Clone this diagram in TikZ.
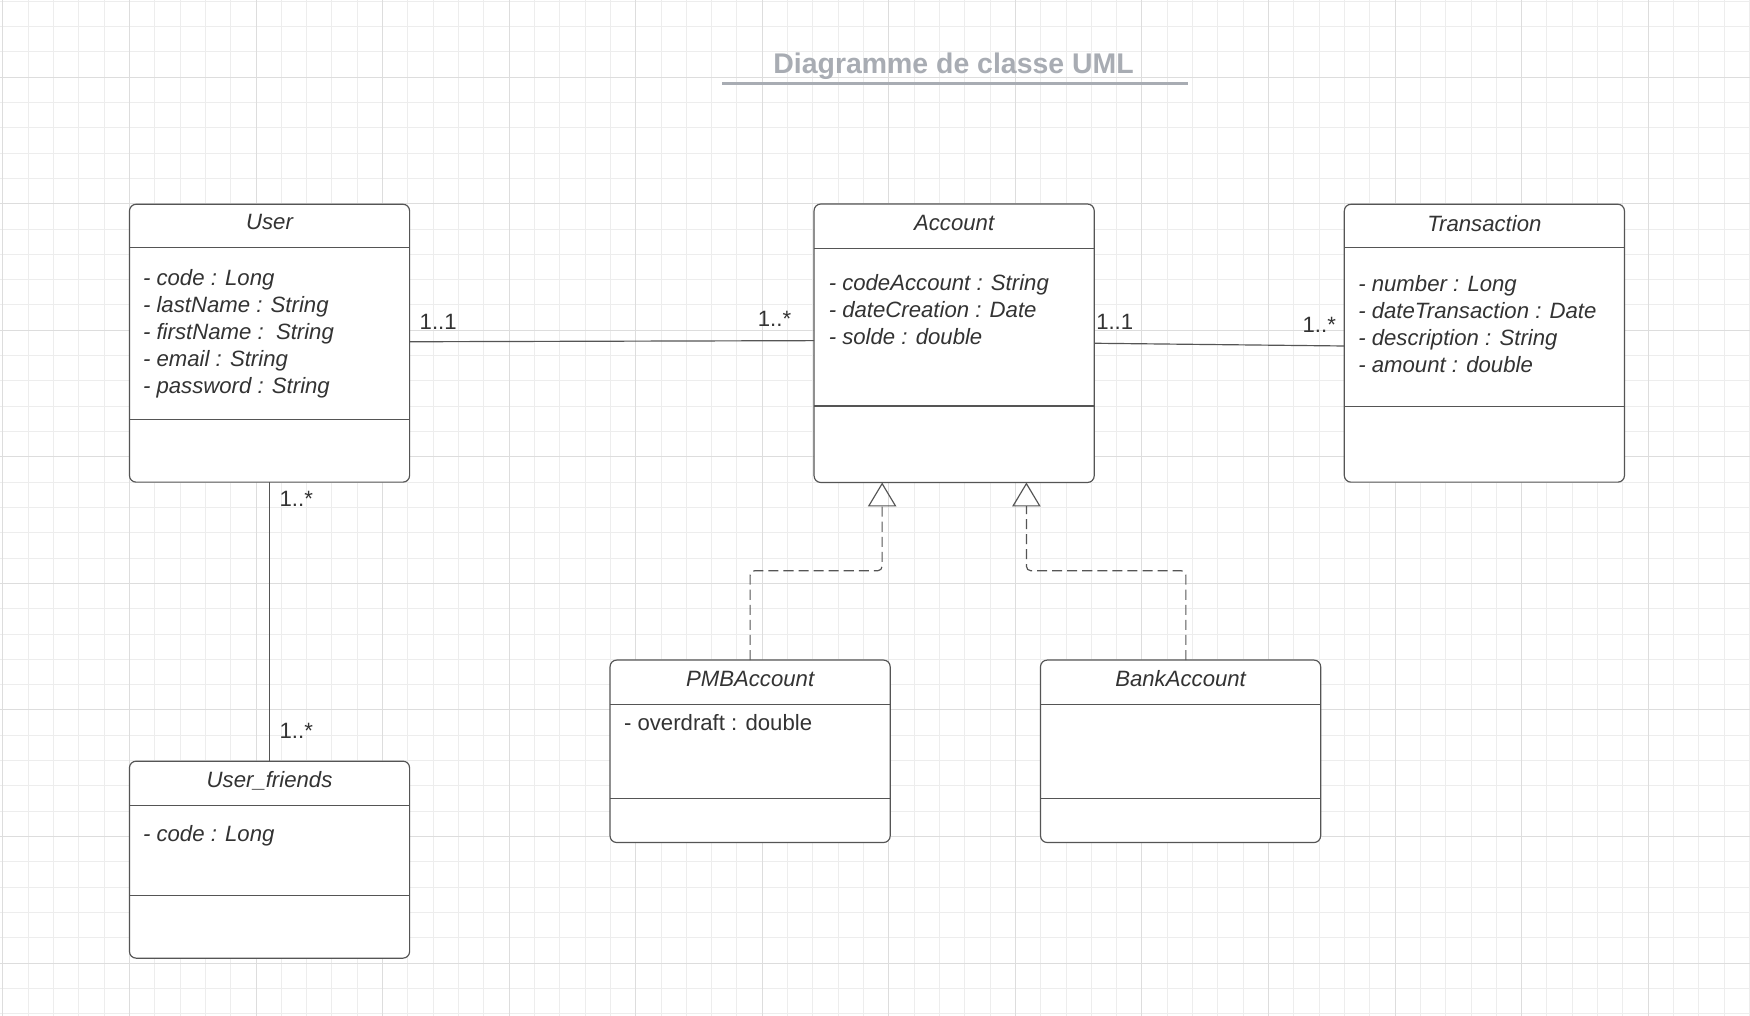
\documentclass[tikz,border=0pt]{standalone}
\usepackage{fontspec}
\setmainfont{Liberation Sans}
\usetikzlibrary{arrows.meta}

\definecolor{textgray}{HTML}{333333}
\definecolor{boxgray}{HTML}{555555}
\definecolor{titlegray}{HTML}{A8ACB3}
\definecolor{minorgray}{HTML}{EDEDED}
\definecolor{majorgray}{HTML}{DDDDDD}
\newcommand{\classfont}{\fontsize{11.3}{13.8}\selectfont}

\begin{document}
\begin{tikzpicture}[x=0.2mm, y=-0.2mm,
    classbox/.style={draw=boxgray, line width=0.6pt, fill=white, rounded corners=1.2mm,
      minimum width=50.2mm, anchor=north west, inner sep=0pt, outer sep=0pt},
    classname/.style={text=textgray, font=\classfont\itshape, inner sep=0pt, anchor=base},
    attrs/.style={text=textgray, font=\classfont\itshape, align=left, inner sep=0pt, anchor=base west},
    divider/.style={draw=boxgray, line width=0.6pt},
    mult/.style={text=textgray, font=\classfont, inner sep=0pt},
    assoc/.style={draw=boxgray, line width=0.6pt},
    realize/.style={draw=boxgray, line width=0.6pt, dash pattern=on 1.8mm off 0.9mm,
      rounded corners=0.8mm, -{Triangle[open, length=4.3mm, width=5.1mm]}},
    minorgrid/.style={draw=minorgray, line width=0.5pt},
    majorgrid/.style={draw=majorgray, line width=0.5pt}]
    \useasboundingbox[fill=white] (0,0) rectangle (1568,910);

    % Grid
    \foreach \k in {0,...,69} \draw[minorgrid] ({2.6+22.68*\k},0) -- ({2.6+22.68*\k},910);
    \foreach \k in {0,...,40} \draw[minorgrid] (0,{1.06+22.68*\k}) -- (1568,{1.06+22.68*\k});
    \foreach \k in {0,...,13} \draw[majorgrid] ({2.6+113.4*\k},0) -- ({2.6+113.4*\k},910);
    \foreach \k in {0,...,7} \draw[majorgrid] (0,{69.1+113.4*\k}) -- (1568,{69.1+113.4*\k});

    % Title
    \node[text=titlegray, font=\fontsize{14.5}{17}\selectfont\bfseries, inner sep=0pt, anchor=base]
        (title) at (854.4,65.7) {Diagramme de classe UML};
    \draw[titlegray, line width=0.45mm] (647,74.7) -- (1064.5,74.7);

    % Nodes
    \node[classbox, minimum height=49.8mm] (user) at (116,183) {};
    \node[classbox, minimum height=49.9mm] (account) at (729.4,182.8) {};
    \node[classbox, minimum height=49.8mm] (transaction) at (1204.5,183) {};
    \node[classbox, minimum height=35.3mm] (friends) at (116,682) {};
    \node[classbox, minimum height=32.7mm] (pmb) at (546.6,591.4) {};
    \node[classbox, minimum height=32.7mm] (bank) at (932.3,591.4) {};

    % Compartments
    \draw[divider] ([yshift=-7.8mm]user.north west) -- ([yshift=-7.8mm]user.north east);
    \draw[divider] ([yshift=-38.5mm]user.north west) -- ([yshift=-38.5mm]user.north east);
    \draw[divider] ([yshift=-7.9mm]account.north west) -- ([yshift=-7.9mm]account.north east);
    \draw[divider] ([yshift=-36.2mm]account.north west) -- ([yshift=-36.2mm]account.north east);
    \draw[divider] ([yshift=-7.8mm]transaction.north west) -- ([yshift=-7.8mm]transaction.north east);
    \draw[divider] ([yshift=-36.2mm]transaction.north west) -- ([yshift=-36.2mm]transaction.north east);
    \draw[divider] ([yshift=-7.9mm]friends.north west) -- ([yshift=-7.9mm]friends.north east);
    \draw[divider] ([yshift=-24.1mm]friends.north west) -- ([yshift=-24.1mm]friends.north east);
    \draw[divider] ([yshift=-7.9mm]pmb.north west) -- ([yshift=-7.9mm]pmb.north east);
    \draw[divider] ([yshift=-24.8mm]pmb.north west) -- ([yshift=-24.8mm]pmb.north east);
    \draw[divider] ([yshift=-7.9mm]bank.north west) -- ([yshift=-7.9mm]bank.north east);
    \draw[divider] ([yshift=-24.8mm]bank.north west) -- ([yshift=-24.8mm]bank.north east);

    % Class names
    \node[classname] (usertitle) at ([yshift=-4.6mm]user.north) {User};
    \node[classname] (accounttitle) at ([yshift=-4.8mm]account.north) {Account};
    \node[classname] (transactiontitle) at ([yshift=-4.8mm]transaction.north) {Transaction};
    \node[classname] (friendstitle) at ([yshift=-4.7mm]friends.north) {User\_friends};
    \node[classname] (pmbtitle) at ([yshift=-4.66mm]pmb.north) {PMBAccount};
    \node[classname] (banktitle) at ([yshift=-4.66mm]bank.north) {BankAccount};

    % Attributes (anchored on the baseline of the last line)
    \node[attrs] (userattrs) at ([xshift=2.36mm, yshift=-34.0mm]user.north west)
        {- code : Long\\- lastName : String\\- firstName :~~String\\- email : String\\- password : String};
    \node[attrs] (accountattrs) at ([xshift=2.56mm, yshift=-25.2mm]account.north west)
        {- codeAccount : String\\- dateCreation : Date\\- solde : double};
    \node[attrs] (transactionattrs) at ([xshift=2.44mm, yshift=-30.1mm]transaction.north west)
        {- number : Long\\- dateTransaction : Date\\- description : String\\- amount : double};
    \node[attrs] (friendsattrs) at ([xshift=2.36mm, yshift=-14.4mm]friends.north west)
        {- code : Long};
    \node[attrs, font=\classfont] (pmbattrs) at ([xshift=2.44mm, yshift=-12.7mm]pmb.north west)
        {- overdraft : double};

    % Associations
    \draw[assoc] ([yshift=0.26mm]user.east) -- ([yshift=0.47mm]account.west)
        node[mult, pos=0, anchor=base west, xshift=1.7mm, yshift=2.2mm] {1..1}
        node[mult, pos=1, anchor=base east, xshift=-4mm, yshift=2.5mm] {1..*};
    \draw[assoc] (account.east) -- ([yshift=-0.5mm]transaction.west)
        node[mult, pos=0, anchor=base west, xshift=0.26mm, yshift=2.4mm] {1..1}
        node[mult, pos=1, anchor=base east, xshift=-1.4mm, yshift=2.4mm] {1..*};
    \draw[assoc] (user.south) -- (friends.north)
        node[mult, pos=0, anchor=base west, xshift=1.7mm, yshift=-4.3mm] {1..*}
        node[mult, pos=1, anchor=base west, xshift=1.7mm, yshift=4.1mm] {1..*};

    % Arrows
    \draw[realize] (pmb.north) -- ++(0,16mm) -| ([xshift=-12.9mm]account.south);
    \draw[realize] ([xshift=0.95mm]bank.north) -- ++(0,16mm) -| ([xshift=12.95mm]account.south);
\end{tikzpicture}
\end{document}
